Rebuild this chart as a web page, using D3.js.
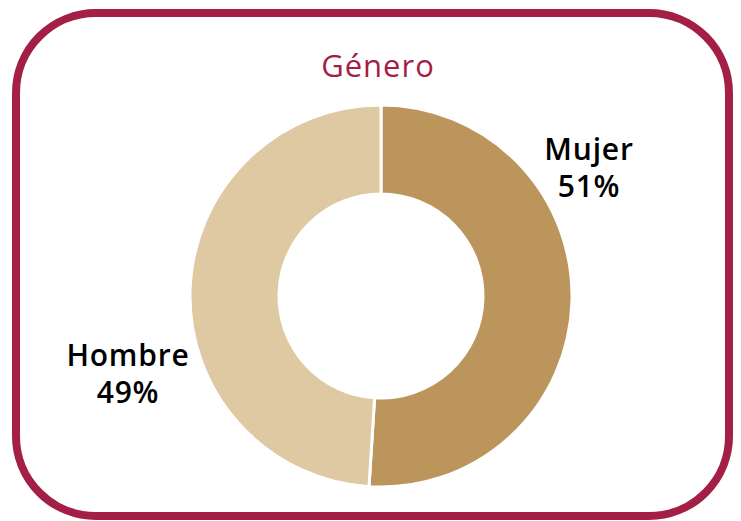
<!DOCTYPE html>
<head>
<meta charset="utf-8">
<script src="https://cdn.jsdelivr.net/npm/d3@7"></script>
<style>
  body { margin: 0; background: #fff; }
  svg { display: block; }
</style>
</head>
<body>
<div id="chart"></div>
<script>
  var width = 741, height = 521;

  // data
  var labels = ["Mujer", "Hombre"];
  var values = [51, 49];
  var colors = ["#BC955C", "#DFC9A3"];

  var svg = d3.select("#chart").append("svg")
    .attr("width", width)
    .attr("height", height);

  // frame
  svg.append("rect")
    .attr("x", 16).attr("y", 13)
    .attr("width", 713).attr("height", 503)
    .attr("rx", 80).attr("ry", 80)
    .attr("fill", "#fff")
    .attr("stroke", "#A31F45")
    .attr("stroke-width", 8);

  svg.append("text")
    .attr("x", 378).attr("y", 77)
    .attr("text-anchor", "middle")
    .attr("fill", "#A31F45")
    .style("font", "31px 'Open Sans', sans-serif")
    .style("letter-spacing", "1px")
    .text("Género");

  var cx = 381, cy = 296, outer = 191, inner = 102;

  var pie = d3.pie().sort(null).value(function(d) { return d; });
  var arc = d3.arc().innerRadius(inner).outerRadius(outer);
  var arcs = pie(values);

  var g = svg.append("g").attr("transform", "translate(" + cx + "," + cy + ")");
  g.selectAll("path")
    .data(arcs)
    .enter().append("path")
    .attr("d", arc)
    .attr("fill", function(d, i) { return colors[i]; })
    .attr("stroke", "#fff")
    .attr("stroke-width", 3);

  // labels
  var labelPos = [[589, 160], [128, 366]];
  labels.forEach(function(l, i) {
    var t = svg.append("text")
      .attr("text-anchor", "middle")
      .attr("fill", "#000")
      .style("font", "600 30px 'Open Sans', sans-serif")
      .style("letter-spacing", "0.8px");
    t.append("tspan").attr("x", labelPos[i][0]).attr("y", labelPos[i][1]).text(l);
    t.append("tspan").attr("x", labelPos[i][0]).attr("y", labelPos[i][1] + 37).text(values[i] + "%");
  });
</script>
</body>
</html>
